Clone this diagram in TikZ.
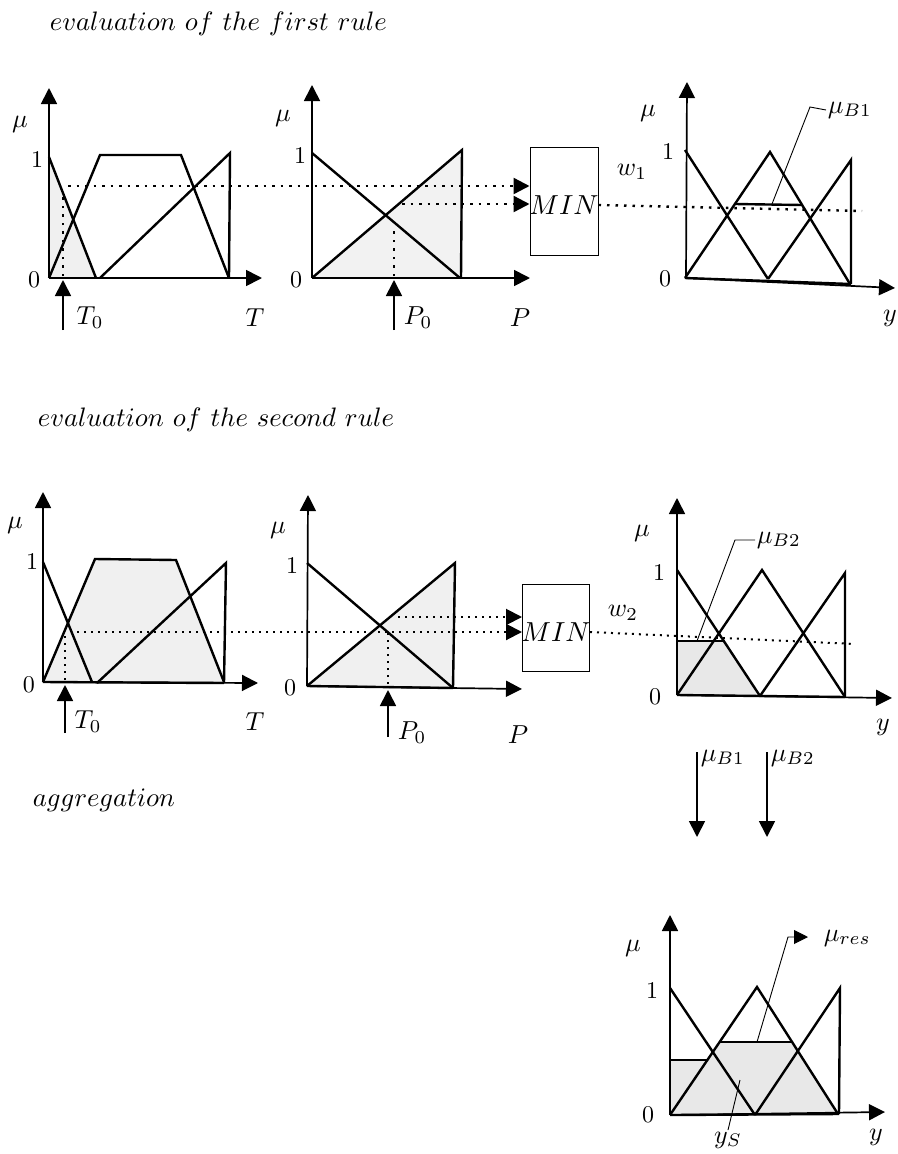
\documentclass[tikz,border=0pt]{standalone}
\usetikzlibrary{arrows.meta}
\begin{document}
\begin{tikzpicture}[x=1pt, y=-1pt,
    every node/.style={inner sep=0.5pt},
    lab/.style={scale=2.6},
    num/.style={scale=2.4},
    titel/.style={scale=2.67, anchor=west},
    ax/.style={line width=1.7pt, -{Triangle[length=16pt,width=16pt]}},
    mf/.style={line width=2.4pt, line join=miter},
    dot/.style={line width=2.4pt, dash pattern=on 2.5pt off 6pt},
    fdot/.style={line width=2pt, dash pattern=on 2pt off 5pt},
    lead/.style={line width=0.9pt},
    minbox/.style={draw, line width=1pt, inner sep=0pt}]
    \useasboundingbox (0,0) rectangle (897,1154);

    % 标题
    \node[titel] (t1) at (48,24) {$evaluation\ of\ the\ first\ rule$};
    \node[titel] (t2) at (36,420) {$evaluation\ of\ the\ second\ rule$};
    \node[titel] (t3) at (31,800) {$aggregation$};

    % 第一条规则: T
    \fill[gray!12] (49,278) -- (49,157) -- (96,278) -- cycle;
    \draw[ax] (49,278) -- (262,278);
    \draw[ax] (49,278) -- (49,88);
    \node[lab] (mu1) at (20,124) {$\mu$};
    \node[num] (one1) at (37,160) {1};
    \node[num] (zero1) at (34,280) {0};
    \draw[mf] (49,157) -- (96,278);
    \draw[mf] (49,278) -- (100,155) -- (181,155) -- (229,278);
    \draw[mf] (100,278) -- (230,153) -- (229,278);
    \draw[mf] (49,278) -- (229,278);
    \draw[dot] (63,276) -- (63,192);
    \coordinate (t0a) at (63,330);
    \draw[ax] (t0a) -- (63,280);
    \node[lab] (t0l) at (90,318) {$T_0$};
    \node[lab] (tl) at (255,318) {$T$};

    % 第一条规则: P
    \fill[gray!10] (312,278) -- (462,150) -- (461,278) -- cycle;
    \draw[ax] (312,278) -- (530,278);
    \draw[ax] (312,278) -- (312,85);
    \node[lab] (mu2) at (283,118) {$\mu$};
    \node[num] (one2) at (300,156) {1};
    \node[num] (zero2) at (296,280) {0};
    \draw[mf] (312,153) -- (460,278);
    \draw[mf] (312,278) -- (462,150) -- (461,278);
    \draw[mf] (312,278) -- (461,278);
    \draw[dot] (394,276) -- (394,228);
    \coordinate (p0a) at (394,330);
    \draw[ax] (p0a) -- (394,280);
    \node[lab] (p0l) at (418,318) {$P_0$};
    \node[lab] (pl) at (520,318) {$P$};

    % MIN
    \node[minbox, minimum width=68pt, minimum height=108pt] (min1) at (564,201) {};
    \node[scale=2.75] (min1t) at (564,205) {$MIN$};
    \coordinate (d1) at (68,186);
    \coordinate (d2) at (402,204);
    \draw[dot, -{Triangle[length=16pt,width=16pt]}] (d1) -- (d1 -| min1.west);
    \draw[dot, -{Triangle[length=16pt,width=16pt]}] (d2) -- (d2 -| min1.west);

    % 第一条规则: y
    \draw[ax] (685,278) -- (895,288);
    \draw[ax] (686,278) -- (687,82);
    \node[lab] (mu3) at (648,113) {$\mu$};
    \node[num] (one3) at (668,152) {1};
    \node[num] (zero3) at (665,279) {0};
    \draw[mf] (685,150) -- (768,279);
    \draw[mf] (685,278) -- (770,152) -- (850,284);
    \draw[mf] (768,279) -- (851,160) -- (851,284);
    \draw[mf] (685,278) -- (851,284);
    \draw[mf] (735,204) -- (802,205);
    \coordinate (w1e) at (862,211);
    \draw[dot] (min1.east |- 0,205) -- (w1e);
    \node[lab] (w1) at (632,172) {$w_1$};
    \node[lab, anchor=west] (mb1) at (826,110) {$\mu_{B1}$};
    \draw[lead] (772,204) -- (810,107) -- (mb1.west);
    \node[lab] (y1) at (890,318) {$y$};

    % 第二条规则: T
    \fill[gray!12] (43,682) -- (95,559) -- (176,560) -- (224,682) -- cycle;
    \draw[ax] (43,682) -- (258,683);
    \draw[ax] (43,682) -- (43,492);
    \node[lab] (mu4) at (15,525) {$\mu$};
    \node[num] (one4) at (32,562) {1};
    \node[num] (zero4) at (29,685) {0};
    \draw[mf] (43,562) -- (92,682);
    \draw[mf] (43,682) -- (95,559) -- (176,560) -- (224,682);
    \draw[mf] (97,683) -- (226,563) -- (224,683);
    \draw[mf] (43,682) -- (224,683);
    \draw[fdot] (65,680) -- (65,634);
    \coordinate (t0b) at (65,733);
    \draw[ax] (t0b) -- (65,685);
    \node[lab] (t0m) at (88,722) {$T_0$};
    \node[lab] (tm) at (255,722) {$T$};

    % 第二条规则: P
    \fill[gray!12] (307,686) -- (455,563) -- (453,688) -- cycle;
    \draw[ax] (307,686) -- (522,689);
    \draw[ax] (307,686) -- (308,495);
    \node[lab] (mu5) at (278,530) {$\mu$};
    \node[num] (one5) at (292,566) {1};
    \node[num] (zero5) at (290,688) {0};
    \draw[mf] (307,563) -- (453,688);
    \draw[mf] (307,686) -- (455,563) -- (453,688);
    \draw[mf] (307,686) -- (453,688);
    \draw[fdot] (388,684) -- (388,632);
    \coordinate (p0b) at (388,737);
    \draw[ax] (p0b) -- (388,690);
    \node[lab] (p0m) at (412,733) {$P_0$};
    \node[lab] (pm) at (518,735) {$P$};

    % MIN
    \node[minbox, minimum width=67pt, minimum height=87pt] (min2) at (556,628) {};
    \node[scale=2.75] (min2t) at (556,632) {$MIN$};
    \coordinate (d3) at (77,632);
    \coordinate (d4) at (398,617);
    \draw[fdot, -{Triangle[length=16pt,width=16pt]}] (d3) -- (d3 -| min2.west);
    \draw[fdot, -{Triangle[length=16pt,width=16pt]}] (d4) -- (d4 -| min2.west);

    % 第二条规则: y
    \fill[gray!18] (677,695) -- (677,641) -- (725,641) -- (760,695) -- cycle;
    \draw[ax] (677,695) -- (892,698);
    \draw[ax] (677,695) -- (677,498);
    \node[lab] (mu6) at (642,533) {$\mu$};
    \node[num] (one6) at (659,572) {1};
    \node[num] (zero6) at (655,697) {0};
    \draw[mf] (677,570) -- (760,696);
    \draw[mf] (677,695) -- (762,570) -- (845,697);
    \draw[mf] (760,696) -- (845,573) -- (845,697);
    \draw[mf] (677,695) -- (845,697);
    \draw[mf] (677,695) -- (677,641) -- (725,641);
    \coordinate (w2e) at (855,644);
    \draw[fdot] (min2.east |- 0,632) -- (w2e);
    \node[lab] (w2) at (623,613) {$w_2$};
    \node[lab, anchor=west] (mb2) at (755,540) {$\mu_{B2}$};
    \draw[lead] (697,641) -- (735,540) -- (mb2.west);
    \node[lab] (y2) at (883,727) {$y$};

    % 合成
    \coordinate (s1) at (697,752);
    \coordinate (s2) at (767,752);
    \draw[ax] (s1) -- (697,837);
    \draw[ax] (s2) -- (767,837);
    \node[lab, anchor=west] (ab1) at (699,758) {$\mu_{B1}$};
    \node[lab, anchor=west] (ab2) at (769,758) {$\mu_{B2}$};

    % 结果
    \fill[gray!18] (670,1115) -- (670,1060) -- (708,1060) -- (720,1042) -- (792,1042) -- (838,1114) -- cycle;
    \draw[ax] (670,1115) -- (885,1112);
    \draw[ax] (670,1115) -- (670,915);
    \node[lab] (mu7) at (633,948) {$\mu$};
    \node[num] (one7) at (652,990) {1};
    \node[num] (zero7) at (648,1115) {0};
    \draw[mf] (670,988) -- (755,1115);
    \draw[mf] (670,1115) -- (757,987) -- (838,1114);
    \draw[mf] (755,1115) -- (840,988) -- (839,1114);
    \draw[mf] (670,1115) -- (839,1114);
    \draw[mf] (670,1115) -- (670,1060) -- (708,1060);
    \draw[mf] (720,1042) -- (792,1042);
    \node[lab, anchor=west] (mres) at (822,938) {$\mu_{res}$};
    \draw[lead, -{Triangle[length=14pt,width=14pt]}] (757,1042) -- (788,937) -- (808,937);
    \node[lab] (ys) at (728,1140) {$y_S$};
    \draw[lead] (740,1080) -- (ys.north);
    \node[lab] (y3) at (876,1137) {$y$};
\end{tikzpicture}
\end{document}
